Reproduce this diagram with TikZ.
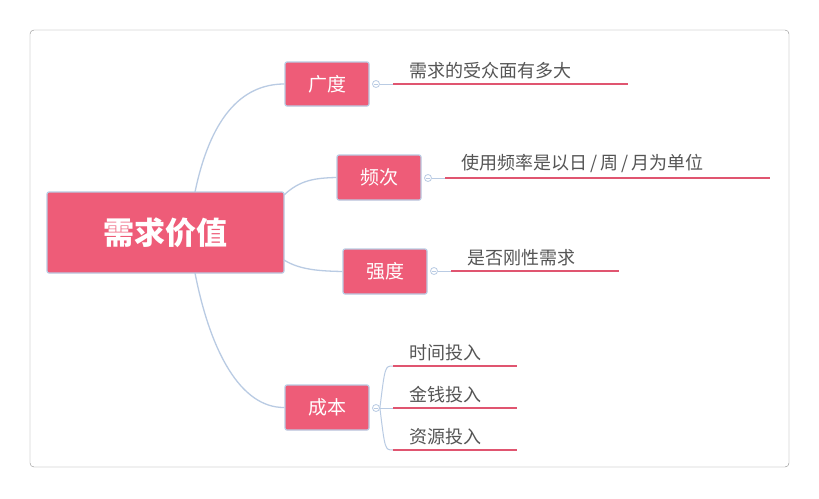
\documentclass[tikz,border=0pt]{standalone}
\usepackage{fontspec}
\setmainfont{Noto Sans CJK SC}
\definecolor{pk}{HTML}{EE5C78}
\definecolor{bl}{HTML}{B9CBE3}
\definecolor{tx}{HTML}{555555}
\definecolor{ul}{HTML}{E05570}
\begin{document}
\begin{tikzpicture}[x=1pt,y=-1pt,
 box/.style={draw=bl,line width=1.2pt,fill=pk,text=white,rounded corners=2pt,inner sep=0pt},
 con/.style={draw=bl,line width=1.3pt},
 leaf/.style={text=tx,font=\fontsize{18}{20}\selectfont,anchor=south west,inner sep=1pt},
 uline/.style={draw=ul,line width=1.6pt},
 knob/.style={circle,draw=bl,fill=white,minimum size=7pt,inner sep=0pt,line width=0.8pt}]
\useasboundingbox (0,0) rectangle (819,498);
\draw[draw=black!45,fill=white,rounded corners=4pt] (30,30) rectangle (789,467);
% root
\node[box,minimum width=237pt,minimum height=81pt,font=\fontsize{31}{34}\selectfont\bfseries] (root) at (165.5,232.5) {需求价值};
\node[box,minimum width=84pt,minimum height=44pt,font=\fontsize{19}{22}\selectfont] (a) at (327,84) {广度};
\node[box,minimum width=84pt,minimum height=45pt,font=\fontsize{19}{22}\selectfont] (b) at (379,177.5) {频次};
\node[box,minimum width=84pt,minimum height=45pt,font=\fontsize{19}{22}\selectfont] (c) at (385,271.5) {强度};
\node[box,minimum width=84pt,minimum height=45pt,font=\fontsize{19}{22}\selectfont] (d) at (327,407.5) {成本};
\draw[con] (195,192) .. controls (210,120) and (240,84) .. (a.west);
\draw[con] (284,195) .. controls (300,180) and (315,178) .. (b.west);
\draw[con] (284,260) .. controls (300,270) and (320,271) .. (c.west);
\draw[con] (195,273) .. controls (210,350) and (240,408) .. (d.west);
% knobs
\node[knob] (ka) at (376,84) {};
\node[knob] (kb) at (428,178) {};
\node[knob] (kc) at (434,271) {};
\node[knob] (kd) at (376,408) {};
\foreach \k in {ka,kb,kc,kd}{\draw[draw=bl,line width=0.7pt] ([xshift=-2pt]\k.center) -- ([xshift=2pt]\k.center);}
% leaves
\coordinate (la0) at (393,84); \coordinate (la1) at (628,84);
\draw[con,line width=1pt] (ka) -- (la0);
\draw[uline] (la0) -- (la1);
\node[leaf] (ta) at (408,80) {需求的受众面有多大};
\coordinate (lb0) at (445,178); \coordinate (lb1) at (770,178);
\draw[con,line width=1pt] (kb) -- (lb0);
\draw[uline] (lb0) -- (lb1);
\node[leaf] (tb) at (460,174) {使用频率是以日\,/\,周\,/\,月为单位};
\coordinate (lc0) at (451,271); \coordinate (lc1) at (619,271);
\draw[con,line width=1pt] (kc) -- (lc0);
\draw[uline] (lc0) -- (lc1);
\node[leaf] (tc) at (466,267) {是否刚性需求};
% cost
\coordinate (l1) at (393,366); \coordinate (l2) at (393,408); \coordinate (l3) at (393,450);
\draw[con,line width=1pt] (kd) -- (l2);
\draw[con,line width=1pt] (kd.east) .. controls (385,366) .. (l1);
\draw[con,line width=1pt] (kd.east) .. controls (385,450) .. (l3);
\draw[uline] (l1) -- (517,366);
\draw[uline] (l2) -- (517,408);
\draw[uline] (l3) -- (517,450);
\node[leaf] (t1) at (408,362) {时间投入};
\node[leaf] (t2) at (408,404) {金钱投入};
\node[leaf] (t3) at (408,446) {资源投入};
\end{tikzpicture}
\end{document}
